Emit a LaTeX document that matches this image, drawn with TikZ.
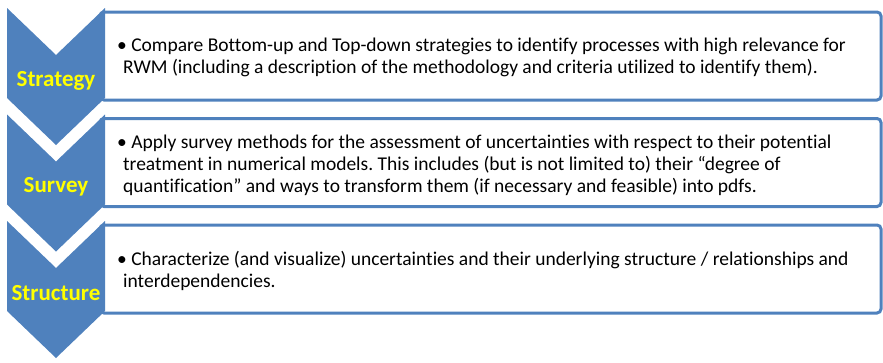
\documentclass[tikz,border=0pt]{standalone}
\usepackage{fontspec}
\setmainfont{Carlito}[Ligatures=NoCommon]
\usetikzlibrary{positioning}
\definecolor{stepblue}{RGB}{79, 129, 189}
\definecolor{steplabel}{RGB}{255, 255, 0}
\frenchspacing

\begin{document}
\begin{tikzpicture}[
    x=1pt, y=-1pt,
    chevron/.style={fill=stepblue, draw=none},
    infobox/.style={draw=stepblue, line width=3pt, fill=white, rounded corners=4pt},
    steptitle/.style={font=\fontsize{23}{26}\selectfont\bfseries, text=steplabel, inner sep=0pt, anchor=base},
    steptext/.style={font=\fontsize{19.5}{22}\selectfont, align=left, inner sep=0pt, anchor=base west}
]
    \useasboundingbox (0,0) rectangle (883,362);

    % Boxes behind the chevrons
    \foreach \i in {0,1,2} {
        \draw[infobox] (100,12+106.5*\i) rectangle (881,100+106.5*\i);
    }

    % Chevrons
    \foreach \i in {0,1,2} {
        \fill[chevron] (7,8+106.5*\i) -- (56,55+106.5*\i) -- (105,8+106.5*\i)
            -- (105,98+106.5*\i) -- (56,145+106.5*\i) -- (7,98+106.5*\i) -- cycle;
    }

    % Titles
    \node[steptitle] (strategy) at (56,86) {Strategy};
    \node[steptitle] (survey) at (56,192) {Survey};
    \node[steptitle] (structure) at (56,300) {Structure};

    % Texts (anchored at the last line)
    \node[steptext] (strategytext) at (117,73)
        {• Compare Bottom-up and Top-down strategies to identify processes with high relevance for\\
         \hspace*{6pt}RWM (including a description of the methodology and criteria utilized to identify them).};
    \node[steptext] (surveytext) at (117,192)
        {• Apply survey methods for the assessment of uncertainties with respect to their potential\\
         \hspace*{6pt}treatment in numerical models. This includes (but is not limited to) their “degree of\\
         \hspace*{6pt}quantification” and ways to transform them (if necessary and feasible) into pdfs.};
    \node[steptext] (structuretext) at (117,287)
        {• Characterize (and visualize) uncertainties and their underlying structure / relationships and\\
         \hspace*{6pt}interdependencies.};
\end{tikzpicture}
\end{document}
